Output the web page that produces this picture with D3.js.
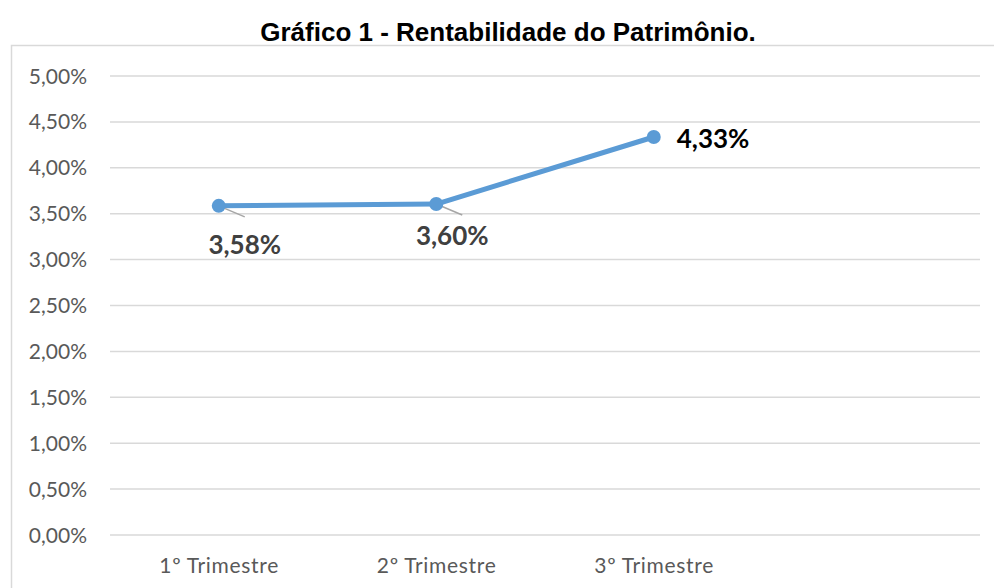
<!DOCTYPE html>
<html>
<head>
<meta charset="utf-8">
<script src="https://cdn.jsdelivr.net/npm/d3@7"></script>
<style>
  body { margin: 0; background: #fff; }
  .chart text { font-family: Lato, "Open Sans", sans-serif; }
</style>
</head>
<body>
<div class="chart"></div>
<script>
// chart values
const categories = ["1º Trimestre", "2º Trimestre", "3º Trimestre", ""];
const values = [3.58, 3.60, 4.33];
const dataLabels = ["3,58%", "3,60%", "4,33%"];
const yTicks = [0, 0.5, 1, 1.5, 2, 2.5, 3, 3.5, 4, 4.5, 5];

function drawChart() {
    // === Margin Convention ===
    const margin = ({top: 75.5, right: 14, bottom: 53.5, left: 110})
    const width = 994 - margin.left - margin.right,
          height = 588 - margin.top - margin.bottom;

    const root = d3.select(".chart").append("svg")
        .attr("width", 994)
        .attr("height", 588);

    // outer frame (right/bottom edges fall outside the picture)
    root.append("rect")
        .attr("x", 11.5)
        .attr("y", 45.5)
        .attr("width", 1000)
        .attr("height", 600)
        .attr("fill", "none")
        .attr("stroke", "#d9d9d9")
        .attr("stroke-width", 1.5);

    // title
    root.append("text")
        .attr("x", 508)
        .attr("y", 40.5)
        .attr("text-anchor", "middle")
        .style("font-family", "'Liberation Sans', Arial, sans-serif")
        .style("font-weight", "bold")
        .style("font-size", "26px")
        .attr("fill", "#000")
        .text("Gráfico 1 - Rentabilidade do Patrimônio.");

    const svg = root.append("g")
        .attr("transform", "translate(" + margin.left + "," + margin.top + ")");

    // === Scales ===
    const xScale = d3.scaleBand()
        .domain(categories)
        .range([0, width]);

    const yScale = d3.scaleLinear()
        .domain([0, 5])
        .range([height, 0]);

    // === Axes ===
    const yAxis = d3.axisLeft(yScale)
        .tickValues(yTicks)
        .tickSize(-width)
        .tickPadding(23)
        .tickFormat(d => d3.format(".2f")(d).replace(".", ",") + "%");

    const gy = svg.append("g")
        .attr("class", "axis y-axis")
        .call(yAxis);
    gy.select(".domain").remove();
    gy.selectAll(".tick line").attr("stroke", "#d9d9d9").attr("stroke-width", 1.5);
    gy.selectAll(".tick text")
        .attr("fill", "#595959")
        .style("font-size", "21px")
        .attr("dy", "0.36em");

    const xAxis = d3.axisBottom(xScale)
        .tickSize(0);

    const gx = svg.append("g")
        .attr("class", "axis x-axis")
        .attr("transform", `translate(0, ${height})`)
        .call(xAxis);
    gx.select(".domain").remove();
    gx.selectAll(".tick text")
        .attr("y", 38)
        .attr("dy", 0)
        .attr("fill", "#595959")
        .style("font-size", "21px")
        .attr("textLength", d => d ? 119 : null);

    const cx = (d, i) => xScale(categories[i]) + xScale.bandwidth() / 2;

    // === Line ===
    const line = d3.line()
        .x((d, i) => cx(d, i))
        .y(d => yScale(d));

    svg.append("path")
        .datum(values)
        .attr("fill", "none")
        .attr("stroke", "#5b9bd5")
        .attr("stroke-width", 5)
        .attr("stroke-linejoin", "round")
        .attr("d", line);

    // leader lines for the first two labels
    svg.selectAll(".leader")
        .data(values.slice(0, 2))
        .enter()
        .append("line")
        .attr("class", "leader")
        .attr("x1", (d, i) => cx(d, i))
        .attr("y1", d => yScale(d))
        .attr("x2", (d, i) => cx(d, i) + 26)
        .attr("y2", d => yScale(d) + 11)
        .attr("stroke", "#a6a6a6")
        .attr("stroke-width", 1.5);

    svg.selectAll(".point")
        .data(values)
        .enter()
        .append("circle")
        .attr("class", "point")
        .attr("cx", (d, i) => cx(d, i))
        .attr("cy", d => yScale(d))
        .attr("r", 7)
        .attr("fill", "#5b9bd5");

    // === Data labels ===
    const labelPos = [
        {dx: 26, dy: 48, anchor: "middle", color: "#404040"},
        {dx: 16, dy: 41, anchor: "middle", color: "#404040"},
        {dx: 23, dy: 11, anchor: "start", color: "#000"}
    ];
    svg.selectAll(".data-label")
        .data(values)
        .enter()
        .append("text")
        .attr("class", "data-label")
        .attr("x", (d, i) => cx(d, i) + labelPos[i].dx)
        .attr("y", (d, i) => yScale(d) + labelPos[i].dy)
        .attr("text-anchor", (d, i) => labelPos[i].anchor)
        .attr("fill", (d, i) => labelPos[i].color)
        .style("font-size", "26px")
        .style("font-weight", "bold")
        .text((d, i) => dataLabels[i]);
}

drawChart();
</script>
</body>
</html>
